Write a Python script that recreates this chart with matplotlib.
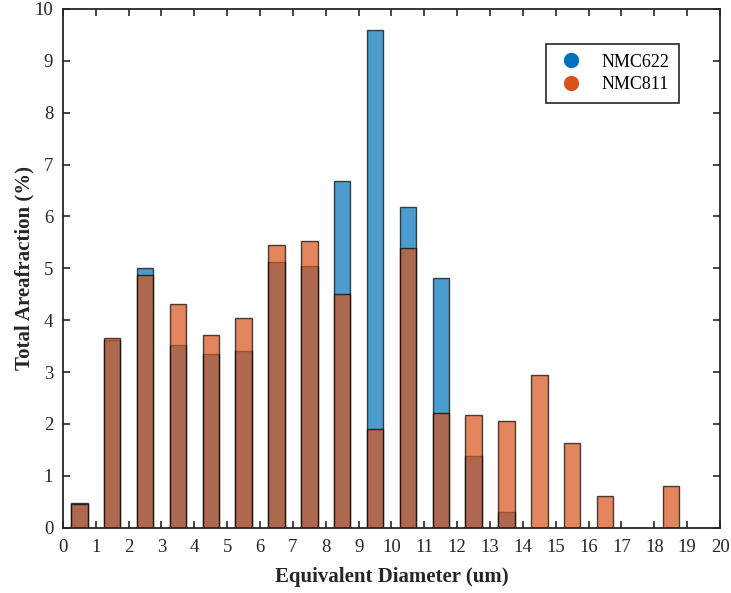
import numpy as np
import matplotlib.pyplot as plt
from matplotlib.lines import Line2D

plt.rcParams['font.family'] = ['Liberation Serif', 'DejaVu Serif']

# bin centres (1 um bins) and area fraction per bin, in %
centres = np.arange(0.5, 20, 1.0)
nmc622 = [0.48, 3.62, 5.00, 3.53, 3.35, 3.40, 5.13, 5.05, 6.69, 9.60,
          6.18, 4.82, 1.38, 0.30, 0.0, 0.0, 0.0, 0.0, 0.0, 0.0]
nmc811 = [0.45, 3.65, 4.87, 4.32, 3.72, 4.04, 5.45, 5.52, 4.50, 1.90,
          5.40, 2.22, 2.17, 2.05, 2.95, 1.64, 0.62, 0.0, 0.80, 0.0]

blue = (0, 0.447, 0.741)
orange = (0.85, 0.325, 0.098)

fig = plt.figure(figsize=(7.31, 5.93), dpi=100)
ax = fig.add_axes([0.086, 0.110, 0.899, 0.875])

ax.bar(centres, nmc622, width=0.5, color=blue, alpha=0.7,
       edgecolor='black', linewidth=1.0)
ax.bar(centres, nmc811, width=0.5, color=orange, alpha=0.7,
       edgecolor='black', linewidth=1.0)

ax.set_xlim(0, 20)
ax.set_ylim(0, 10)
ax.set_xticks(range(0, 21))
ax.set_yticks(range(0, 11))
ax.tick_params(direction='in', top=True, right=True, labelsize=13.5,
               length=5, width=1.2, colors='#262626', labelcolor='#262626')
ax.tick_params(axis='x', pad=8)
ax.tick_params(axis='y', pad=7)
for s in ax.spines.values():
    s.set_linewidth(1.3)
    s.set_color('#262626')

ax.set_xlabel('Equivalent Diameter (um)', fontsize=15, fontweight='bold',
              color='#262626', labelpad=8)
ax.set_ylabel('Total Areafraction (%)', fontsize=15, fontweight='bold',
              color='#262626', labelpad=0)

handles = [Line2D([], [], marker='o', ls='none', color=blue, markersize=10),
           Line2D([], [], marker='o', ls='none', color=orange, markersize=10)]
leg = ax.legend(handles, ['NMC622', 'NMC811'], loc='upper right',
                bbox_to_anchor=(0.9376, 0.9326), borderaxespad=0,
                fontsize=13, fancybox=False,
                edgecolor='#262626', framealpha=1, handletextpad=0.9,
                handlelength=1.6, borderpad=0.55, labelspacing=0.3)
leg.get_frame().set_linewidth(1.2)

fig.savefig('out.png', dpi=100)
